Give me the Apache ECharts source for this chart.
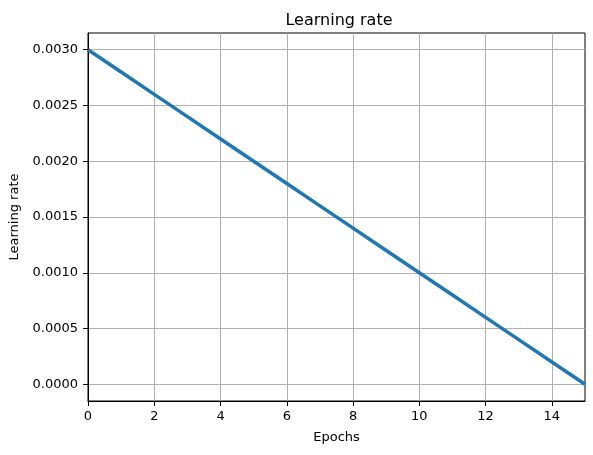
<!DOCTYPE html>
<html><head><meta charset="utf-8">
<script src="https://cdn.jsdelivr.net/npm/echarts@6/dist/echarts.min.js"></script>
<style>html,body{margin:0;padding:0;background:#fff}#c{width:593px;height:455px}</style>
</head><body><div id="c"></div>
<script>
const epochs = [0,1,2,3,4,5,6,7,8,9,10,11,12,13,14,15];
const learningRate = [0.0030,0.0028,0.0026,0.0024,0.0022,0.0020,0.0018,0.0016,0.0014,0.0012,0.0010,0.0008,0.0006,0.0004,0.0002,0.0000];
const yTicks = [0,0.0005,0.0010,0.0015,0.0020,0.0025,0.0030];
const xTicks = [0,2,4,6,8,10,12,14];

const font = 'DejaVu Sans';
const chart = echarts.init(document.getElementById('c'), null, {renderer:'canvas'});
chart.setOption({
  animation:false,
  title:{text:'Learning rate', left:334, top:8, textAlign:'center',
    textStyle:{fontFamily:font, fontSize:16, fontWeight:'normal', color:'#000'}},
  grid:{left:88, right:8, top:33, bottom:54, show:true, borderColor:'#000', borderWidth:1, backgroundColor:'transparent'},
  xAxis:{type:'value', min:0, max:15,
    name:'Epochs', nameLocation:'middle', nameGap:30,
    nameTextStyle:{fontFamily:font, fontSize:13, color:'#000'},
    axisLine:{show:true, onZero:false, lineStyle:{color:'#000', width:1}},
    axisTick:{show:true, inside:false, length:5, lineStyle:{color:'#000'}, customValues:xTicks},
    axisLabel:{fontFamily:font, fontSize:13, color:'#000', margin:9, customValues:xTicks},
    splitLine:{show:true, lineStyle:{color:'#b0b0b0', width:1}}},
  yAxis:{type:'value', min:-0.00015, max:0.00315,
    name:'Learning rate', nameLocation:'middle', nameGap:64,
    nameTextStyle:{fontFamily:font, fontSize:13, color:'#000'},
    axisLine:{show:true, onZero:false, lineStyle:{color:'#000', width:1}},
    axisTick:{show:true, inside:false, length:5, lineStyle:{color:'#000'}, customValues:yTicks},
    axisLabel:{fontFamily:font, fontSize:13, color:'#000', margin:10, customValues:yTicks,
      formatter:v=>v.toFixed(4)},
    splitLine:{show:true, lineStyle:{color:'#b0b0b0', width:1}}},
  series:[{type:'line', data:epochs.map((e,i)=>[e,learningRate[i]]),
    showSymbol:false, symbol:'none', lineStyle:{color:'#1f77b4', width:3.5}, z:5}]
});
</script></body></html>
